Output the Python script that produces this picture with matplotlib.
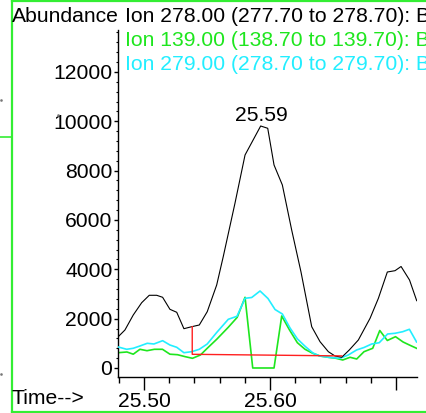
import numpy as np
import matplotlib
matplotlib.use("Agg")
import matplotlib.pyplot as plt
from matplotlib.lines import Line2D
from matplotlib.ticker import MultipleLocator

plt.rcParams['font.family'] = ['Liberation Sans', 'DejaVu Sans']
FS = 15.2

# Ion 278.00 (black)
t_278 = [25.4796, 25.4849, 25.4915, 25.4982, 25.5042, 25.5101, 25.5148, 25.5206,
         25.5260, 25.5317, 25.5379, 25.5439, 25.5502, 25.5577, 25.5629, 25.5722,
         25.5802, 25.5926, 25.5982, 25.6032, 25.6098, 25.6172, 25.6246, 25.6331,
         25.6397, 25.6463, 25.6516, 25.6569, 25.6629, 25.6701, 25.6794, 25.6860,
         25.6931, 25.6992, 25.7040, 25.7107, 25.7164]
y_278 = [1269, 1540, 2148, 2647, 2947, 2947, 2866, 2379,
         2258, 1593, 1674, 1743, 2282, 3364, 4512, 6676,
         8634, 9809, 9716, 8229, 7418, 5594, 3891, 1674,
         1066, 661, 486, 434, 730, 1135, 2015, 2825,
         3891, 3944, 4114, 3567, 2728]

# Ion 139.00 (green)
t_139 = [25.4796, 25.4865, 25.4915, 25.4968, 25.5024, 25.5083, 25.5147, 25.5206,
         25.5266, 25.5328, 25.5385, 25.5448, 25.5502, 25.5577, 25.5669, 25.5740,
         25.5802, 25.5863, 25.5920, 25.5980, 25.6032, 25.6093, 25.6155, 25.6217,
         25.6278, 25.6339, 25.6397, 25.6463, 25.6524, 25.6577, 25.6635, 25.6688,
         25.6746, 25.6815, 25.6871, 25.6931, 25.6996, 25.7056, 25.7106, 25.7163]
y_139 = [620, 649, 559, 758, 701, 758, 758, 559,
         539, 458, 393, 527, 799, 1163, 1650, 2055,
         2866, 0, 0, 0, 0, 2108, 1540, 1026,
         758, 596, 486, 434, 393, 324, 434, 365,
         661, 799, 1520, 1115, 1269, 1054, 932, 799]

# Ion 279.00 (cyan)
t_279 = [25.4796, 25.4863, 25.4915, 25.4968, 25.5026, 25.5079, 25.5148, 25.5206,
         25.5260, 25.5317, 25.5379, 25.5439, 25.5502, 25.5577, 25.5669, 25.5738,
         25.5802, 25.5855, 25.5921, 25.5984, 25.6040, 25.6098, 25.6159, 25.6218,
         25.6282, 25.6341, 25.6393, 25.6463, 25.6556, 25.6621, 25.6687, 25.6746,
         25.6807, 25.6867, 25.6933, 25.6992, 25.7053, 25.7106, 25.7163]
y_279 = [851, 758, 799, 892, 1001, 973, 1107, 932,
         839, 620, 661, 758, 973, 1439, 1974, 2096,
         2825, 2858, 3121, 2817, 2371, 2189, 1621, 1176,
         863, 608, 486, 434, 393, 527, 730, 831,
         973, 1026, 1378, 1407, 1471, 1569, 1054]

# integration baseline (red)
base_t = [25.5383, 25.5383, 25.6569]
base_y = [1674, 555, 490]

peak_t = 25.5935
peak_label = "25.59"

fig = plt.figure(figsize=(4.26, 4.13), dpi=100)
ax = fig.add_axes([118 / 426, 36 / 413, 298.7 / 426, 347 / 413])

ax.plot(t_139, y_139, color='#1ee61e', lw=1.2, zorder=2)
ax.plot(t_279, y_279, color='#22eeff', lw=1.2, zorder=3)
ax.plot(t_278, y_278, color='black', lw=0.8, zorder=4)
ax.plot(base_t, base_y, color='#ff2020', lw=1.0, zorder=5)

ax.text(peak_t, 10020, peak_label, ha='center', va='baseline', fontsize=FS)

ax.set_xlim(25.4794, 25.7164)
ax.set_ylim(-365, 13700)

for s in ['top', 'right']:
    ax.spines[s].set_visible(False)
ax.spines['left'].set_linewidth(1.0)
ax.spines['bottom'].set_linewidth(1.0)

ax.xaxis.set_minor_locator(MultipleLocator(0.02))
ax.set_xticks([25.5, 25.6, 25.7])
ax.set_xticklabels(['25.50', '25.60', ''])
ax.tick_params(axis='x', which='major', length=9, width=1.0, labelsize=FS, pad=2)
ax.tick_params(axis='x', which='minor', length=4.5, width=1.0)

ax.set_yticks([0, 2000, 4000, 6000, 8000, 10000, 12000])
ax.yaxis.set_minor_locator(MultipleLocator(400))
ax.tick_params(axis='y', which='major', length=3, width=1.0, labelsize=FS, pad=1)
ax.tick_params(axis='y', which='minor', length=1.8, width=0.8)

fig.text(12 / 426, 1 - 16 / 413, 'Abundance', fontsize=FS, va='center', ha='left')
fig.text(12 / 426, 1 - 399 / 413, 'Time-->', fontsize=FS, va='center', ha='left')

fig.text(125 / 426, 1 - 16 / 413, 'Ion 278.00 (277.70 to 278.70): B', fontsize=FS,
         va='center', ha='left', color='black')
fig.text(125 / 426, 1 - 40 / 413, 'Ion 139.00 (138.70 to 139.70): B', fontsize=FS,
         va='center', ha='left', color='#1ee61e')
fig.text(125 / 426, 1 - 64 / 413, 'Ion 279.00 (278.70 to 279.70): B', fontsize=FS,
         va='center', ha='left', color='#22eeff')

# green frame around the panel
frame = '#33ee33'
fig.add_artist(Line2D([11.5 / 426, 11.5 / 426], [0, 1], transform=fig.transFigure,
                      color=frame, lw=1.6))
fig.add_artist(Line2D([11.5 / 426, 1], [1 - 0.8 / 413, 1 - 0.8 / 413],
                      transform=fig.transFigure, color=frame, lw=1.6))
fig.add_artist(Line2D([11.5 / 426, 1], [1 - 411.5 / 413, 1 - 411.5 / 413],
                      transform=fig.transFigure, color=frame, lw=1.6))
fig.add_artist(Line2D([0, 11.5 / 426], [1 - 137 / 413, 1 - 137 / 413],
                      transform=fig.transFigure, color=frame, lw=1.2))
# stray dots
fig.add_artist(Line2D([0.5 / 426, 58 / 426, 0.5 / 426], [1 - 100 / 413, 1 - 115 / 413, 1 - 374 / 413],
                      transform=fig.transFigure, ls='none', marker='s', ms=0.8,
                      color='#777777'))

fig.savefig('out.png', dpi=100)
